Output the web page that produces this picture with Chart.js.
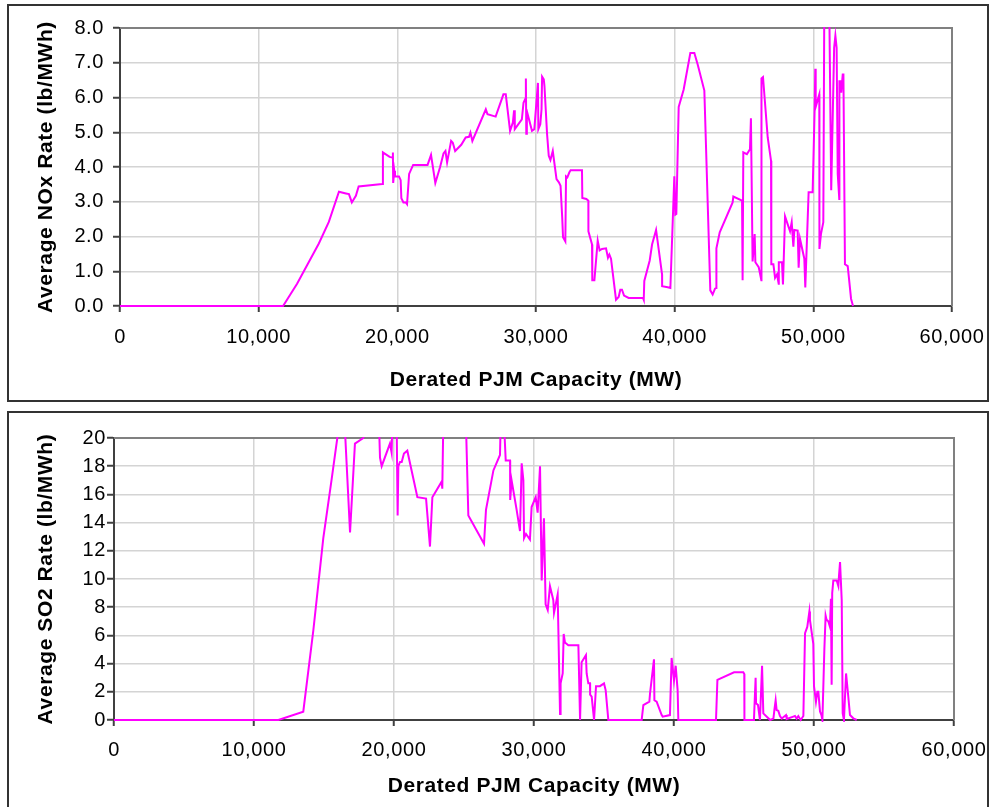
<!DOCTYPE html>
<html>
<head>
<meta charset="utf-8">
<script src="https://cdn.jsdelivr.net/npm/chart.js@4.4.1/dist/chart.umd.min.js"></script>
<style>
body { margin:0; background:#fff; width:990px; height:807px; overflow:hidden; position:relative; }
.caja { position:absolute; box-sizing:border-box; border:2px solid #333; background:#fff; }
canvas { position:absolute; }
</style>
</head>
<body>
<div class="caja" style="left:7px;top:4px;width:982px;height:398px"></div>
<div class="caja" style="left:7px;top:411px;width:982px;height:420px"></div>
<canvas id="noxChart" width="976" height="393" style="left:10px;top:7px;width:976px;height:393px"></canvas>
<canvas id="so2Chart" width="976" height="393" style="left:10px;top:414px;width:976px;height:393px"></canvas>
<script>
// ticks de los ejes
const xTicks = [0, 10000, 20000, 30000, 40000, 50000, 60000];
const noxTicks = [0, 1, 2, 3, 4, 5, 6, 7, 8];
const so2Ticks = [0, 2, 4, 6, 8, 10, 12, 14, 16, 18, 20];

// NOx: capacidad (MW) y tasa (lb/MWh)
const noxCapacity = [0, 11760, 12770, 14340, 15060, 15790, 16290, 16510, 16720, 17010, 17210, 18910, 18960, 19440, 19640, 19680, 19700, 19780, 19830, 20120,
  20240, 20290, 20440, 20610, 20700, 20850, 21140, 22180, 22430, 22740, 23080, 23330, 23470, 23590, 23880, 24000, 24170, 24610, 24930, 25170,
  25270, 25410, 26380, 26500, 27090, 27650, 27820, 28130, 28330, 28420, 28470, 28980, 29100, 29250, 29270, 29300, 29340, 29710, 29880, 30140,
  30170, 30310, 30400, 30440, 30560, 30610, 30800, 30920, 31040, 31210, 31480, 31650, 31770, 31890, 31950, 32115, 32165, 32260, 32400, 32500,
  33317, 33340, 33630, 33775, 33780, 34040, 34060, 34210, 34450, 34590, 34760, 35050, 35190, 35290, 35410, 35770, 35960, 36080, 36200, 36350,
  36680, 37720, 37770, 37810, 38200, 38370, 38660, 39090, 39095, 39500, 39690, 39975, 40050, 40120, 40290, 40650, 41130, 41420, 41660, 42140,
  42570, 42740, 42910, 43000, 43010, 43250, 44180, 44230, 44860, 44900, 44950, 45210, 45430, 45500, 45620, 45770, 45820, 46060, 46250, 46260,
  46370, 46710, 46950, 46970, 47120, 47240, 47380, 47500, 47510, 47740, 47810, 47960, 48320, 48440, 48560, 48630, 48870, 48940, 49040, 49350,
  49420, 49660, 49950, 50100, 50140, 50170, 50430, 50440, 50550, 50720, 50790, 51150, 51290, 51500, 51590, 51680, 51760, 51870, 51880, 51960,
  52010, 52120, 52170, 52280, 52480, 52720, 52860];
const noxRate = [0, 0, 0.64, 1.80, 2.42, 3.29, 3.24, 3.22, 2.98, 3.17, 3.44, 3.51, 4.42, 4.29, 4.27, 4.42, 3.54, 3.89, 3.73, 3.73,
  3.62, 3.10, 2.98, 2.98, 2.93, 3.80, 4.06, 4.06, 4.35, 3.54, 3.99, 4.39, 4.46, 4.13, 4.75, 4.70, 4.46, 4.64, 4.85, 4.87,
  4.99, 4.75, 5.66, 5.52, 5.45, 6.09, 6.09, 5.04, 5.28, 5.63, 5.09, 5.37, 5.85, 5.98, 6.55, 4.96, 5.61, 5.04, 5.09, 6.42,
  5.09, 5.23, 5.66, 6.60, 6.52, 6.33, 4.94, 4.32, 4.20, 4.46, 3.65, 3.56, 3.46, 2.55, 1.98, 1.86, 3.73, 3.70, 3.84, 3.91,
  3.91, 3.11, 3.08, 3.03, 2.15, 1.77, 0.74, 0.74, 1.88, 1.60, 1.64, 1.66, 1.39, 1.48, 1.36, 0.18, 0.26, 0.47, 0.47, 0.30,
  0.23, 0.23, 0.18, 0.72, 1.31, 1.77, 2.19, 0.91, 0.57, 0.54, 0.52, 3.73, 2.63, 2.65, 5.73, 6.23, 7.28, 7.28, 6.95, 6.20,
  0.45, 0.33, 0.50, 0.52, 1.66, 2.12, 2.98, 3.15, 3.03, 0.74, 4.42, 4.37, 4.51, 5.40, 1.28, 2.07, 1.26, 1.12, 0.74, 6.55,
  6.59, 4.85, 4.18, 1.20, 1.20, 0.81, 0.91, 0.64, 1.26, 1.26, 0.62, 2.58, 2.15, 2.41, 1.71, 2.19, 2.17, 1.10, 1.93, 1.36,
  0.53, 3.27, 3.27, 5.76, 6.83, 5.73, 6.09, 1.64, 2.07, 2.41, 8.60, 8.60, 3.33, 7.43, 7.78, 7.43, 3.80, 3.08, 6.47, 6.47,
  6.14, 6.66, 6.66, 1.20, 1.15, 0.21, 0];

// SO2: capacidad (MW) y tasa (lb/MWh)
const so2Capacity = [0, 11740, 13520, 14240, 14950, 15550, 16020, 16500, 16860, 17210, 17810, 18000, 18900, 19000, 19120, 19710, 19830, 19880, 20190, 20260,
  20310, 20430, 20550, 20710, 20950, 21670, 22290, 22570, 22740, 23400, 23450, 23520, 25140, 25310, 26430, 26570, 27100, 27570, 27620, 27860,
  27980, 28290, 28300, 28400, 28760, 29000, 29120, 29240, 29290, 29430, 29710, 29830, 30120, 30260, 30430, 30550, 30710, 30830, 30980, 31140,
  31380, 31430, 31690, 31860, 31900, 32050, 32120, 32210, 32450, 33170, 33290, 33400, 33710, 33760, 33880, 34000, 34010, 34120, 34290, 34430,
  34710, 35000, 35120, 35310, 37690, 37810, 38240, 38290, 38570, 38600, 38760, 39120, 39190, 39710, 39830, 40000, 40120, 40260, 40310, 43000,
  43100, 44290, 44950, 45020, 45030, 45710, 45830, 45860, 46000, 46140, 46290, 46380, 46740, 46860, 47100, 47170, 47260, 47330, 47450, 47570,
  47700, 48000, 48050, 48520, 48640, 48760, 48880, 49050, 49240, 49360, 49520, 49670, 49710, 49950, 50000, 50140, 50240, 50310, 50430, 50530,
  50600, 50740, 50830, 50900, 51020, 51140, 51210, 51260, 51300, 51380, 51620, 51740, 51790, 51860, 51980, 52050, 52140, 52290, 52450, 52570,
  52810, 53050];
const so2Rate = [0, 0, 0.59, 6.38, 12.9, 17.1, 20.5, 20.5, 13.3, 19.6, 20.0, 22, 22, 18.6, 18.0, 19.6, 18.96, 21, 21, 14.5,
  18.0, 18.3, 18.3, 18.9, 19.1, 15.8, 15.7, 12.3, 15.8, 16.9, 16.4, 21, 21, 14.5, 12.5, 14.9, 17.7, 18.8, 21, 21,
  18.4, 18.4, 15.6, 17.0, 14.9, 13.4, 18.2, 17.0, 12.9, 13.2, 12.8, 15.1, 15.8, 14.7, 18.0, 9.9, 14.3, 8.2, 7.8, 9.5,
  8.5, 7.6, 8.9, 0.43, 2.6, 3.3, 6.1, 5.5, 5.3, 5.3, 0, 4.1, 4.6, 3.3, 2.6, 2.6, 1.8, 1.65, 0, 2.4,
  2.4, 2.6, 2.1, 0, 0, 1.06, 1.3, 1.9, 4.3, 1.4, 1.3, 0.35, 0.24, 0.35, 4.4, 2.8, 3.85, 2.1, 0, 0,
  2.84, 3.38, 3.38, 3.26, 0, 0, 3.0, 1.18, 1.06, 0, 3.85, 0.47, 0.12, 0, 0.1, 0.7, 1.4, 0.7, 0.65, 0.28,
  0.1, 0.35, 0.07, 0.24, 0.28, 0.1, 0.28, 0, 0.28, 6.15, 6.6, 7.7, 7.1, 5.4, 2.4, 1.3, 2.0, 2.0, 0.6, 0.35,
  0, 5.0, 7.4, 7.1, 7.0, 6.6, 8.6, 2.5, 9.0, 9.9, 9.9, 9.5, 10.3, 11.2, 8.5, 0.47, 0, 3.3, 1.65, 0.35,
  0.12, 0];

const fuente = "'Liberation Sans', Arial, sans-serif";

// Borde gris arriba y a la derecha del area de trazado
const bordeGris = {
    id: 'bordeGris',
    beforeUpdate(chart) { chart.ctx.letterSpacing = '0.6px'; },
    beforeDraw(chart) { chart.ctx.letterSpacing = '0.6px'; },
    beforeDatasetsDraw(chart) {
        const { ctx, chartArea: a } = chart;
        ctx.save();
        ctx.strokeStyle = '#808080';
        ctx.lineWidth = 2;
        ctx.beginPath();
        ctx.moveTo(a.left, a.top);
        ctx.lineTo(a.right, a.top);
        ctx.lineTo(a.right, a.bottom);
        ctx.stroke();
        ctx.restore();
    }
};

function crearGrafico(id, capacidad, tasa, yTicks, decimales, tituloY, m) {
    const puntos = capacidad.map((c, i) => ({ x: c, y: tasa[i] }));
    return new Chart(document.getElementById(id), {
        type: 'scatter',
        data: {
            datasets: [{
                data: puntos,
                showLine: true,
                borderColor: '#ff00ff',
                borderWidth: 2,
                pointRadius: 0,
                tension: 0,
                // deja ver la linea en cero encima del eje
                clip: { top: 1, bottom: 2, left: 2, right: 2 }
            }]
        },
        options: {
            responsive: false,
            animation: false,
            devicePixelRatio: 1,
            layout: { padding: { top: m.arriba, right: m.derecha, left: 0, bottom: 0 } },
            plugins: { legend: { display: false }, tooltip: { enabled: false } },
            scales: {
                x: {
                    type: 'linear',
                    min: xTicks[0],
                    max: xTicks[xTicks.length - 1],
                    afterBuildTicks: s => { s.ticks = xTicks.map(v => ({ value: v })); },
                    afterFit: s => { s.height = m.altoX; s.paddingLeft = 0; s.paddingRight = 0; },
                    grid: { color: '#d4d4d4', lineWidth: 1.5, tickLength: 6, tickColor: '#404040', tickWidth: 2 },
                    border: { color: '#404040', width: 2 },
                    ticks: {
                        padding: m.padX,
                        color: '#000',
                        maxRotation: 0,
                        autoSkip: false,
                        font: { family: fuente, size: 20 },
                        callback: v => v.toLocaleString('en-US')
                    },
                    title: {
                        display: true,
                        text: 'Derated PJM Capacity (MW)',
                        color: '#000',
                        font: { family: fuente, size: 21, weight: 'bold' },
                        padding: { top: 0, bottom: m.padTituloX }
                    }
                },
                y: {
                    min: yTicks[0],
                    max: yTicks[yTicks.length - 1],
                    afterBuildTicks: s => { s.ticks = yTicks.map(v => ({ value: v })); },
                    afterFit: s => { s.width = m.anchoY; s.paddingTop = 0; s.paddingBottom = 0; },
                    grid: { color: '#d4d4d4', lineWidth: 1.5, tickLength: 7, tickColor: '#404040', tickWidth: 2 },
                    border: { color: '#404040', width: 2 },
                    ticks: {
                        padding: m.padY,
                        color: '#000',
                        autoSkip: false,
                        font: { family: fuente, size: 20 },
                        callback: v => v.toFixed(decimales)
                    },
                    title: {
                        display: true,
                        text: tituloY,
                        color: '#000',
                        font: { family: fuente, size: 21, weight: 'bold' },
                        padding: { top: 23.4, bottom: 0 }
                    }
                }
            }
        },
        plugins: [bordeGris]
    });
}

crearGrafico('noxChart', noxCapacity, noxRate, noxTicks, 1, 'Average NOx Rate (lb/MWh)',
    { arriba: 21, derecha: 34, altoX: 94, anchoY: 110, padX: 13, padY: 9, padTituloX: 7.4 });
crearGrafico('so2Chart', so2Capacity, so2Rate, so2Ticks, 0, 'Average SO2 Rate (lb/MWh)',
    { arriba: 24, derecha: 32, altoX: 87, anchoY: 104, padX: 12, padY: 1, padTituloX: 8.4 });
</script>
</body>
</html>
